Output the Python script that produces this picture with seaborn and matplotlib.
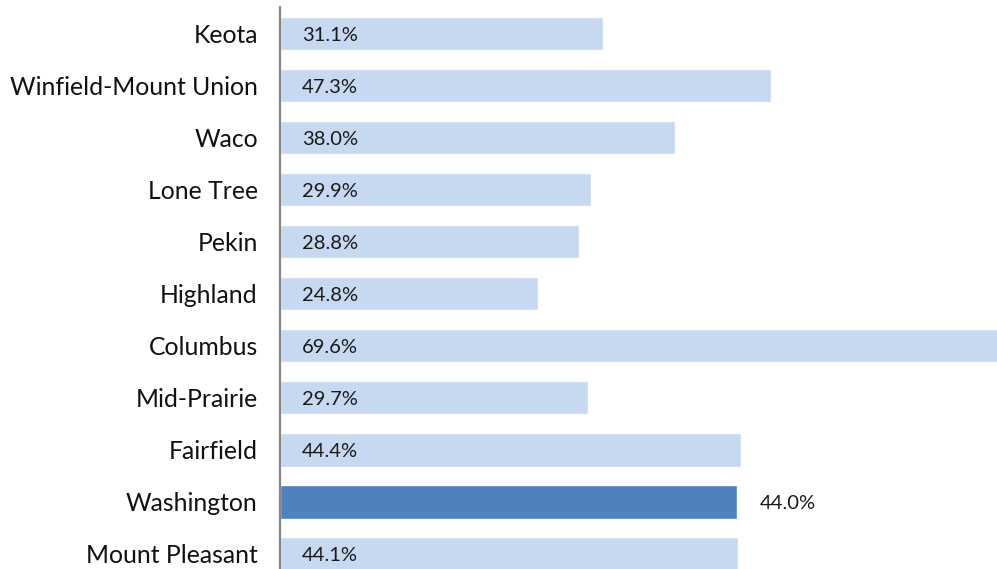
import matplotlib
matplotlib.use("Agg")
import matplotlib.pyplot as plt
import seaborn as sns
import pandas as pd

districts = ["Keota", "Winfield-Mount Union", "Waco", "Lone Tree", "Pekin",
             "Highland", "Columbus", "Mid-Prairie", "Fairfield", "Washington",
             "Mount Pleasant"]
values = [31.1, 47.3, 38.0, 29.9, 28.8, 24.8, 69.6, 29.7, 44.4, 44.0, 44.1]
highlight = "Washington"

df = pd.DataFrame({"district": districts, "value": values})

sns.set_theme(style="white")
plt.rcParams["font.family"] = ["Lato", "DejaVu Sans"]

light = "#C6D9F1"
dark = "#4F81BD"
palette = {d: (dark if d == highlight else light) for d in districts}

fig = plt.figure(figsize=(9.97, 5.69), dpi=100)
ax = fig.add_axes([280 / 997, -11 / 569, 717 / 997, 572.5 / 569])

sns.barplot(data=df, y="district", x="value", hue="district", palette=palette,
            order=districts, hue_order=districts, orient="h", width=0.64,
            legend=False, saturation=1, ax=ax)

ax.set_xlim(0, 717 / 10.386)
ax.set_xlabel("")
ax.set_ylabel("")
ax.set_xticks([])
for s in ["top", "right", "bottom"]:
    ax.spines[s].set_visible(False)
ax.spines["left"].set_color("#868686")
ax.spines["left"].set_linewidth(1.6)
ax.tick_params(axis="y", length=0, pad=16, labelsize=17.85, labelcolor="#111111")

for i, (d, v) in enumerate(zip(districts, values)):
    if d == highlight:
        ax.annotate(f"{v:.1f}%", xy=(v, i), xytext=(16.5, -1.2), textcoords="offset points",
                    va="center", ha="left", fontsize=14.5, color="#1a1a1a")
    else:
        ax.annotate(f"{v:.1f}%", xy=(0, i), xytext=(16, -1.2), textcoords="offset points",
                    va="center", ha="left", fontsize=14.5, color="#1a1a1a")

fig.savefig("out.png", dpi=100)
